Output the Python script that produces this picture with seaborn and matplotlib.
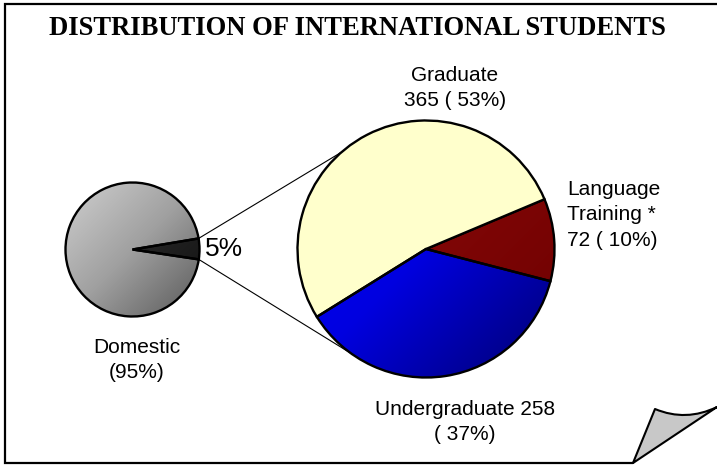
"""
Pie-of-pie: share of international students and their breakdown by program
"""

import numpy as np
import matplotlib
matplotlib.use("Agg")
import matplotlib.pyplot as plt
import seaborn as sns
from matplotlib.path import Path
from matplotlib.patches import PathPatch

# Datos
overall_labels = ["International", "Domestic"]
overall_share = [5, 95]
intl_labels = ["Language\nTraining *", "Graduate", "Undergraduate"]
intl_counts = [72, 365, 258]
title = "DISTRIBUTION OF INTERNATIONAL STUDENTS"

sns.set_theme(style="white")
plt.rcParams["font.family"] = ["Liberation Sans", "DejaVu Sans"]
plt.rcParams["text.color"] = "black"

W, H = 717, 466
fig = plt.figure(figsize=(W / 100, H / 100), dpi=100)
ax = fig.add_axes([0, 0, 1, 1])


def py(y):
    # pixel row (top-down) -> axes y
    return H - y


small_c, small_r = (132.5, py(249.5)), 67
big_c, big_r = (426, py(249)), 128.5
edge = dict(edgecolor="black", linewidth=1.7)

wedges_s, _ = ax.pie(overall_share, colors=["#1e1e1e", "#999999"],
                     startangle=-8.5, center=small_c, radius=small_r,
                     wedgeprops=edge)
wedges_b, _ = ax.pie(intl_counts, colors=["#800000", "#ffffcc", "#0000dd"],
                     startangle=-14.5, center=big_c, radius=big_r,
                     wedgeprops=edge)


def shade(wedge, c, r, colors):
    # diagonal gradient (light top-left -> dark bottom-right) clipped to the wedge
    cmap = sns.blend_palette(colors, as_cmap=True)
    n = 200
    g = np.add.outer(np.arange(n), np.arange(n)) / (2 * n - 2)
    im = ax.imshow(g, cmap=cmap, origin="upper", interpolation="bilinear",
                   extent=[c[0] - r, c[0] + r, c[1] - r, c[1] + r],
                   zorder=wedge.get_zorder() - 0.1)
    im.set_clip_path(wedge)
    wedge.set_facecolor("none")


shade(wedges_s[1], small_c, small_r, ["#cfcfcf", "#a0a0a0", "#5a5a5a"])
shade(wedges_s[0], small_c, small_r, ["#3a3a3a", "#101010"])
shade(wedges_b[0], big_c, big_r, ["#900c0c", "#6e0000"])
shade(wedges_b[2], big_c, big_r, ["#0000ff", "#0000e0", "#000070"])


# connector lines between the pies
def edge_pt(c, r, ang):
    a = np.radians(ang)
    return c[0] + r * np.cos(a), c[1] + r * np.sin(a)


for a_s, a_b in [(wedges_s[0].theta2, 131), (wedges_s[0].theta1, 234.5)]:
    p0 = edge_pt(small_c, small_r, a_s)
    p1 = edge_pt(big_c, big_r, a_b)
    ax.plot([p0[0], p1[0]], [p0[1], p1[1]], color="black", lw=0.8, zorder=0.5)

# labels
total = sum(intl_counts)
pct = [round(100 * v / total) for v in intl_counts]
fs = 15
ls = 1.42
ax.text(455, py(66), f"{intl_labels[1]}\n{intl_counts[1]} ( {pct[1]}%)",
        ha="center", va="top", fontsize=fs, linespacing=ls)
ax.text(567, py(180), f"{intl_labels[0]}\n{intl_counts[0]} ( {pct[0]}%)",
        ha="left", va="top", fontsize=fs, linespacing=ls)
ax.text(465, py(400), f"{intl_labels[2]} {intl_counts[2]}\n( {pct[2]}%)",
        ha="center", va="top", fontsize=fs, linespacing=ls)
ax.text(137, py(338), f"{overall_labels[1]}\n({overall_share[1]}%)",
        ha="center", va="top", fontsize=fs, linespacing=ls)
ax.text(205, py(249), f"{overall_share[0]}%", ha="left", va="center",
        fontsize=19)

ax.text(357, py(35), title, ha="center", va="baseline", fontsize=19.2,
        fontweight="bold", family=["Liberation Serif", "DejaVu Serif"])

# page frame with curled corner
ax.plot([W + 5, 5, 5, 633], [py(4), py(4), py(463), py(463)],
        color="black", lw=1.6, solid_joinstyle="miter", zorder=3)
curl = Path([(633, py(463)), (655, py(409)), (686, py(422)), (717, py(407)),
             (633, py(463))],
            [Path.MOVETO, Path.LINETO, Path.CURVE3, Path.CURVE3, Path.LINETO])
ax.add_patch(PathPatch(curl, facecolor="#c8c8c8", edgecolor="black", lw=1.5,
                       joinstyle="round", zorder=3))

ax.set_xlim(0, W)
ax.set_ylim(0, H)
ax.set_aspect("auto")
ax.axis("off")

fig.savefig("out.png", dpi=100)
